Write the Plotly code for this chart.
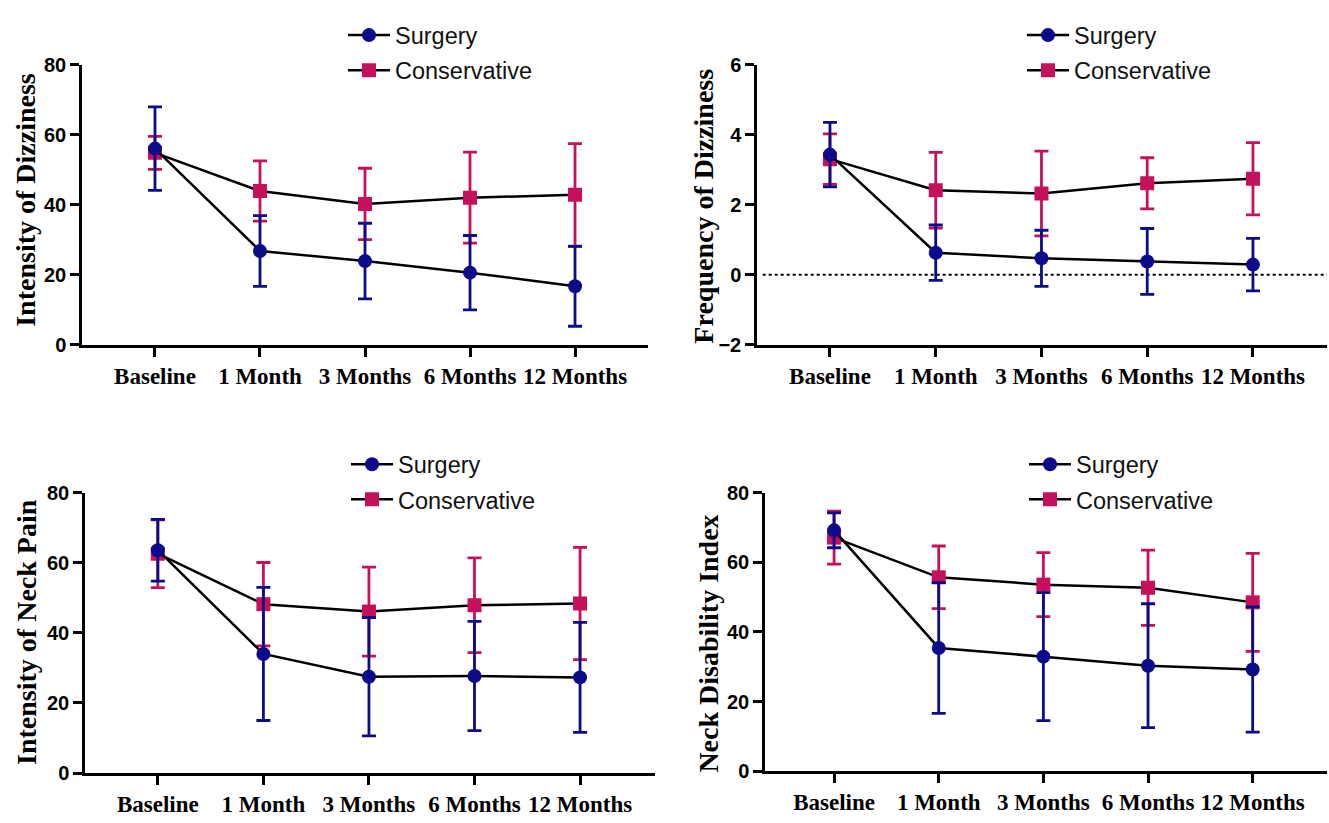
import plotly.graph_objects as go

W, H = 1329, 823

categories = ["Baseline", "1 Month", "3 Months", "6 Months", "12 Months"]
series_names = ["Surgery", "Conservative"]

# Panel 1: Intensity of Dizziness
dizz_int_surg = [56.0, 26.8, 23.9, 20.6, 16.7]
dizz_int_surg_sd = [11.9, 10.1, 10.8, 10.6, 11.4]
dizz_int_cons = [54.8, 43.9, 40.2, 42.0, 42.8]
dizz_int_cons_sd = [4.7, 8.6, 10.2, 13.0, 14.6]

# Panel 2: Frequency of Dizziness
dizz_freq_surg = [3.43, 0.63, 0.47, 0.38, 0.29]
dizz_freq_surg_sd = [0.92, 0.79, 0.80, 0.94, 0.75]
dizz_freq_cons = [3.30, 2.41, 2.32, 2.61, 2.74]
dizz_freq_cons_sd = [0.72, 1.08, 1.21, 0.73, 1.03]

# Panel 3: Intensity of Neck Pain
neck_pain_surg = [63.6, 34.0, 27.5, 27.7, 27.3]
neck_pain_surg_sd = [8.8, 19.0, 16.9, 15.6, 15.7]
neck_pain_cons = [62.6, 48.2, 46.1, 47.9, 48.4]
neck_pain_cons_sd = [9.7, 11.9, 12.7, 13.5, 16.0]

# Panel 4: Neck Disability Index
ndi_surg = [69.2, 35.4, 32.9, 30.3, 29.2]
ndi_surg_sd = [5.0, 18.8, 18.4, 17.8, 18.0]
ndi_cons = [67.1, 55.7, 53.6, 52.7, 48.5]
ndi_cons_sd = [7.6, 9.0, 9.2, 10.8, 14.1]

y_titles = ["Intensity of Dizziness", "Frequency of Dizziness",
            "Intensity of Neck Pain", "Neck Disability Index"]

SURG_C = "#0c0c8a"
CONS_C = "#c5105b"

def px_x(p):
    return p / W

def px_y(p):
    return 1 - p / H

# panel pixel geometry (left, right, top, bottom)
panels = [
    dict(l=82, r=648, t=55, b=343, xr=[-0.695, 4.695], yr=[0, 80], dt=20,
         surg=dizz_int_surg, surg_sd=dizz_int_surg_sd, cons=dizz_int_cons, cons_sd=dizz_int_cons_sd,
         tx=26, ty=194, leg_x=343, leg_y=[25, 61]),
    dict(l=757, r=1327, t=55, b=343, xr=[-0.69, 4.70], yr=[-2, 6], dt=2,
         surg=dizz_freq_surg, surg_sd=dizz_freq_surg_sd, cons=dizz_freq_cons, cons_sd=dizz_freq_cons_sd,
         tx=704, ty=201, leg_x=1022, leg_y=[25, 61]),
    dict(l=85, r=655, t=495, b=783, xr=[-0.69, 4.71], yr=[0, 80], dt=20,
         surg=neck_pain_surg, surg_sd=neck_pain_surg_sd, cons=neck_pain_cons, cons_sd=neck_pain_cons_sd,
         tx=27, ty=638, leg_x=346, leg_y=[466, 502]),
    dict(l=765, r=1327, t=495, b=781, xr=[-0.66, 4.71], yr=[0, 80], dt=20,
         surg=ndi_surg, surg_sd=ndi_surg_sd, cons=ndi_cons, cons_sd=ndi_cons_sd,
         tx=709, ty=650, leg_x=1024, leg_y=[466, 502]),
]

fig = go.Figure()
layout = dict(width=W, height=H, autosize=False, margin=dict(l=0, r=0, t=0, b=0),
              paper_bgcolor="white", plot_bgcolor="white", showlegend=True)
annotations = []
shapes = []
xpos = list(range(len(categories)))

leg_counter = 1
for i, p in enumerate(panels):
    n = i + 1
    xa = "x" if n == 1 else f"x{n}"
    ya = "y" if n == 1 else f"y{n}"
    xkey = "xaxis" if n == 1 else f"xaxis{n}"
    ykey = "yaxis" if n == 1 else f"yaxis{n}"

    legs = []
    for k in range(2):
        name = "legend" if leg_counter == 1 else f"legend{leg_counter}"
        legs.append(name)
        layout[name] = dict(
            x=px_x(p["leg_x"]), y=px_y(p["leg_y"][k]), xanchor="left", yanchor="middle",
            bgcolor="rgba(0,0,0,0)", borderwidth=0, itemwidth=42,
            font=dict(family="Liberation Sans, Arial", size=23.5, color="#111"),
        )
        leg_counter += 1

    # Conservative first (drawn underneath), Surgery on top
    fig.add_trace(go.Scatter(
        x=xpos, y=p["cons"], name=series_names[1], mode="lines+markers",
        xaxis=xa, yaxis=ya, legend=legs[1],
        line=dict(color="black", width=2.5),
        marker=dict(symbol="square", size=14, color=CONS_C),
        error_y=dict(type="data", array=p["cons_sd"], color=CONS_C, thickness=2.8, width=7),
    ))
    fig.add_trace(go.Scatter(
        x=xpos, y=p["surg"], name=series_names[0], mode="lines+markers",
        xaxis=xa, yaxis=ya, legend=legs[0],
        line=dict(color="black", width=2.5),
        marker=dict(symbol="circle", size=14, color=SURG_C),
        error_y=dict(type="data", array=p["surg_sd"], color=SURG_C, thickness=2.8, width=7),
    ))

    layout[xkey] = dict(
        domain=[px_x(p["l"]), px_x(p["r"])], anchor=ya, range=p["xr"],
        tickmode="array", tickvals=xpos, ticktext=categories,
        showline=True, linecolor="black", linewidth=2.5,
        ticks="outside", ticklen=9, tickwidth=2.5, tickcolor="black",
        showgrid=False, zeroline=False, fixedrange=True,
        tickfont=dict(family="Liberation Serif, Times New Roman", size=23, color="black", weight="bold"),
    )
    layout[ykey] = dict(
        domain=[px_y(p["b"]), px_y(p["t"])], anchor=xa, range=p["yr"],
        dtick=p["dt"], tick0=p["yr"][0],
        showline=True, linecolor="black", linewidth=2.5,
        ticks="outside", ticklen=9, tickwidth=2.5, tickcolor="black",
        showgrid=False, zeroline=False, fixedrange=True,
        tickfont=dict(family="Liberation Sans, Arial", size=20, color="black", weight="bold"),
    )
    annotations.append(dict(
        text=y_titles[i], xref="paper", yref="paper", x=px_x(p["tx"]), y=px_y(p["ty"]),
        xanchor="center", yanchor="middle", textangle=-90, showarrow=False,
        font=dict(family="Liberation Serif, Times New Roman", size=28, color="black", weight="bold"),
    ))
    if n == 2:
        shapes.append(dict(type="line", xref="x2 domain", yref="y2", x0=0.01, x1=1, y0=0, y1=0,
                           line=dict(color="black", width=2, dash="dot"), layer="below"))

layout["annotations"] = annotations
layout["shapes"] = shapes
fig.update_layout(**layout)

page_fix = (
    "document.documentElement.style.margin='0';"
    "document.body.style.margin='0';"
    "document.body.style.overflow='hidden';"
    "var gd=document.getElementById('{plot_id}');"
    "gd.style.position='fixed';gd.style.left='0px';gd.style.top='0px';"
)
fig.write_html("out.html", config={"displayModeBar": False}, post_script=page_fix)
